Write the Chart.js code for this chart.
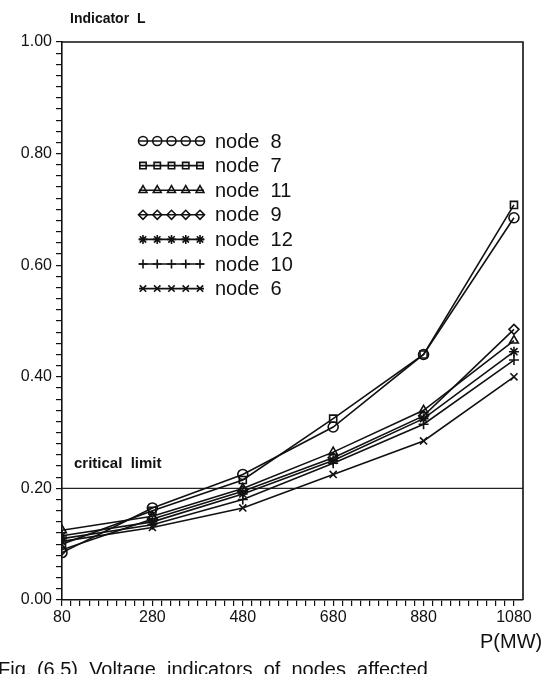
<!DOCTYPE html>
<html>
<head>
<meta charset="utf-8">
<script src="https://cdn.jsdelivr.net/npm/chart.js@4"></script>
<style>
    html, body { margin: 0; padding: 0; background: #fff; }
    #box { width: 542px; height: 674px; }
</style>
</head>
<body>
<div id="box"><canvas id="ind_chart" width="542" height="674"></canvas></div>
<script>
// 横轴 P(MW)
var pValues = [80, 280, 480, 680, 880, 1080];
var xTickLabels = [80, 280, 480, 680, 880, 1080];
var yTickLabels = [0, 0.2, 0.4, 0.6, 0.8, 1.0];

// 各节点电压指标 L
var node8 = [0.085, 0.165, 0.225, 0.31, 0.44, 0.685];
var node7 = [0.10, 0.16, 0.215, 0.325, 0.44, 0.708];
var node11 = [0.125, 0.15, 0.20, 0.265, 0.34, 0.465];
var node9 = [0.09, 0.145, 0.195, 0.255, 0.33, 0.485];
var node12 = [0.115, 0.14, 0.19, 0.25, 0.325, 0.445];
var node10 = [0.11, 0.135, 0.18, 0.245, 0.315, 0.43];
var node6 = [0.105, 0.13, 0.165, 0.225, 0.285, 0.40];

var criticalLimit = 0.20;

;
(function () {
    var nodeCfg = [
        { name: 'node  8', data: node8, style: 'circle' },
        { name: 'node  7', data: node7, style: 'rect' },
        { name: 'node  11', data: node11, style: 'triangle' },
        { name: 'node  9', data: node9, style: 'rectRot' },
        { name: 'node  12', data: node12, style: 'star' },
        { name: 'node  10', data: node10, style: 'cross' },
        { name: 'node  6', data: node6, style: 'crossRot' }
    ];

    function toPoints(arr) {
        return pValues.map(function (p, i) {
            return { x: p, y: arr[i] };
        });
    }

    var datasets = nodeCfg.map(function (n) {
        return {
            label: n.name,
            data: toPoints(n.data),
            borderColor: '#111',
            backgroundColor: 'rgba(255,255,255,0)',
            borderWidth: 1.6,
            pointStyle: n.style,
            pointRadius: 5,
            pointBorderWidth: 1.6,
            pointBorderColor: '#111',
            pointBackgroundColor: 'rgba(255,255,255,0)',
            showLine: true,
            tension: 0
        };
    });

    // 临界线
    datasets.push({
        label: 'critical',
        data: [{ x: 80, y: criticalLimit }, { x: 1100, y: criticalLimit }],
        borderColor: '#222',
        borderWidth: 1.4,
        pointRadius: 0,
        showLine: true
    });

    var fontFam = '"Liberation Sans", "DejaVu Sans", sans-serif';

    // 图框 + 图例 + 文字
    var decoPlugin = {
        id: 'deco',
        afterDraw: function (chart) {
            var ctx = chart.ctx;
            var a = chart.chartArea;
            ctx.save();
            ctx.strokeStyle = '#111';
            ctx.lineWidth = 1.6;
            ctx.beginPath();
            ctx.moveTo(a.left, a.top);
            ctx.lineTo(a.right, a.top);
            ctx.lineTo(a.right, a.bottom);
            ctx.stroke();

            // 图例
            var lx0 = 139, lx1 = 204, ly = 141, step = 24.6;
            ctx.font = '20px ' + fontFam;
            ctx.textBaseline = 'middle';
            nodeCfg.forEach(function (n, i) {
                var y = ly + i * step;
                ctx.lineWidth = 1.6;
                ctx.strokeStyle = '#111';
                ctx.beginPath();
                ctx.moveTo(lx0, y);
                ctx.lineTo(lx1, y);
                ctx.stroke();
                ctx.fillStyle = 'rgba(255,255,255,0)';
                for (var k = 0; k < 5; k++) {
                    var px = lx0 + 4 + k * (lx1 - lx0 - 8) / 4;
                    Chart.helpers.drawPoint(ctx, {
                        pointStyle: n.style,
                        radius: 4.5,
                        borderWidth: 1.4,
                        rotation: 0
                    }, px, y);
                }
                ctx.fillStyle = '#111';
                ctx.fillText(n.name, 215, y + 1);
            });

            ctx.fillStyle = '#111';
            ctx.font = 'bold 14px ' + fontFam;
            ctx.textBaseline = 'alphabetic';
            ctx.fillText('Indicator  L', 70, 23);

            ctx.font = 'bold 15px ' + fontFam;
            ctx.fillText('critical  limit', 74, 468);

            ctx.font = '20px ' + fontFam;
            ctx.fillText('P(MW)', 480, 648);

            ctx.textBaseline = 'top';
            ctx.fillText('Fig. (6.5)  Voltage  indicators  of  nodes  affected', -2, 660);
            ctx.restore();
        }
    };

    var chart = new Chart(document.getElementById('ind_chart').getContext('2d'), {
        type: 'scatter',
        data: { datasets: datasets },
        options: {
            responsive: false,
            animation: false,
            layout: { padding: { left: 0, right: 19, top: 42, bottom: 0 } },
            plugins: {
                legend: { display: false },
                tooltip: { enabled: false },
                title: { display: false }
            },
            scales: {
                x: {
                    type: 'linear',
                    min: 80,
                    max: 1100,
                    afterFit: function (s) { s.height = 74; },
                    afterBuildTicks: function (s) {
                        var t = [];
                        for (var v = 80; v <= 1080; v += 20) t.push({ value: v });
                        s.ticks = t;
                    },
                    ticks: {
                        autoSkip: false,
                        maxRotation: 0,
                        color: '#111',
                        padding: 2,
                        font: { family: fontFam, size: 16 },
                        callback: function (v) {
                            return xTickLabels.indexOf(v) >= 0 ? String(v) : '';
                        }
                    },
                    grid: {
                        drawOnChartArea: false,
                        color: '#111',
                        tickColor: '#111',
                        tickLength: 6,
                        lineWidth: 1.2
                    },
                    border: { color: '#111', width: 1.6 }
                },
                y: {
                    min: 0,
                    max: 1,
                    afterFit: function (s) { s.width = 62; },
                    afterBuildTicks: function (s) {
                        var t = [];
                        for (var i = 0; i <= 50; i++) t.push({ value: Math.round(i * 2) / 100 });
                        s.ticks = t;
                    },
                    ticks: {
                        autoSkip: false,
                        color: '#111',
                        padding: 4,
                        font: { family: fontFam, size: 16 },
                        callback: function (v) {
                            var hit = yTickLabels.some(function (y) { return Math.abs(y - v) < 1e-6; });
                            return hit ? v.toFixed(2) : '';
                        }
                    },
                    grid: {
                        drawOnChartArea: false,
                        color: '#111',
                        tickColor: '#111',
                        tickLength: 6,
                        lineWidth: 1.2
                    },
                    border: { color: '#111', width: 1.6 }
                }
            }
        },
        plugins: [decoPlugin]
    });
}());
</script>
</body>
</html>
